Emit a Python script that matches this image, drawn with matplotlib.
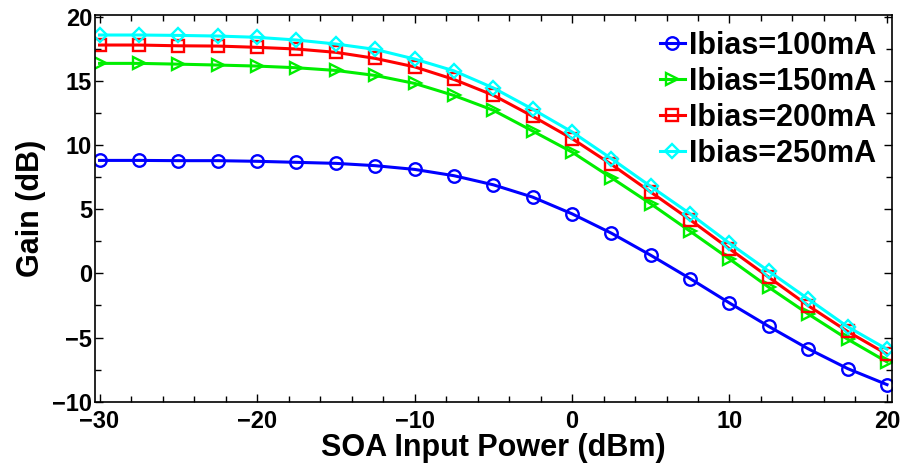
import numpy as np
import matplotlib

matplotlib.use("Agg")
import matplotlib.pyplot as plt
from matplotlib.ticker import MultipleLocator

plt.rcParams["font.family"] = ["Liberation Sans", "DejaVu Sans"]
plt.rcParams["font.weight"] = "bold"

# input power (dBm)
power = [-30, -27.5, -25, -22.5, -20, -17.5, -15, -12.5, -10, -7.5, -5,
         -2.5, 0, 2.5, 5, 7.5, 10, 12.5, 15, 17.5, 20]

gain_100 = [8.80, 8.80, 8.78, 8.78, 8.73, 8.65, 8.57, 8.39, 8.10, 7.61, 6.90,
            5.94, 4.64, 3.13, 1.41, -0.41, -2.31, -4.14, -5.88, -7.42, -8.67]
gain_150 = [16.36, 16.36, 16.30, 16.23, 16.15, 16.02, 15.81, 15.42, 14.80, 13.86, 12.71,
            11.09, 9.45, 7.45, 5.42, 3.28, 1.12, -1.09, -3.17, -5.13, -6.90]
gain_200 = [17.79, 17.79, 17.73, 17.71, 17.61, 17.48, 17.22, 16.75, 16.09, 15.11, 13.88,
            12.24, 10.50, 8.49, 6.33, 4.17, 1.91, -0.31, -2.52, -4.53, -6.30]
gain_250 = [18.57, 18.57, 18.54, 18.49, 18.39, 18.18, 17.87, 17.45, 16.70, 15.78, 14.45,
            12.79, 11.02, 8.94, 6.77, 4.64, 2.34, 0.16, -2.00, -4.16, -5.91]

labels = ["Ibias=100mA", "Ibias=150mA", "Ibias=200mA", "Ibias=250mA"]
series = [gain_100, gain_150, gain_200, gain_250]
colors = ["#0000ff", "#00ee00", "#ff0000", "#00ffff"]
markers = ["o", ">", "s", "D"]
msizes = [9, 9, 8, 7.5]

fig = plt.figure(figsize=(9.03, 4.66), dpi=100)
ax = fig.add_axes([0.105, 0.138, 0.8825, 0.829])

for g, lab, c, m, ms in zip(series, labels, colors, markers, msizes):
    ax.plot(power, g, color=c, marker=m, ms=ms, mfc="none", mec=c, mew=1.7,
            lw=2.2, label=lab)

ax.set_xlim(-30.3, 20.3)
ax.set_ylim(-10, 20.1)
ax.xaxis.set_major_locator(MultipleLocator(10))
ax.xaxis.set_minor_locator(MultipleLocator(2))
ax.yaxis.set_major_locator(MultipleLocator(5))
ax.yaxis.set_minor_locator(MultipleLocator(2.5))
ax.tick_params(which="both", direction="in", top=True, right=True, labelsize=17)
ax.tick_params(which="major", length=6, width=1)
ax.tick_params(which="minor", length=4, width=1)
ax.tick_params(axis="x", pad=6)
ax.tick_params(axis="y", pad=2)
for s in ax.spines.values():
    s.set_linewidth(1.2)

ax.set_xlabel("SOA Input Power (dBm)", fontsize=22, fontweight="bold", labelpad=0)
ax.set_ylabel("Gain (dB)", fontsize=22, fontweight="bold", labelpad=4)

ax.legend(loc="upper right", frameon=False, handlelength=0.8,
          handletextpad=0.15, labelspacing=0.2, borderaxespad=0.1,
          prop={"weight": "bold", "size": 22})

fig.savefig("out.png", dpi=100)
